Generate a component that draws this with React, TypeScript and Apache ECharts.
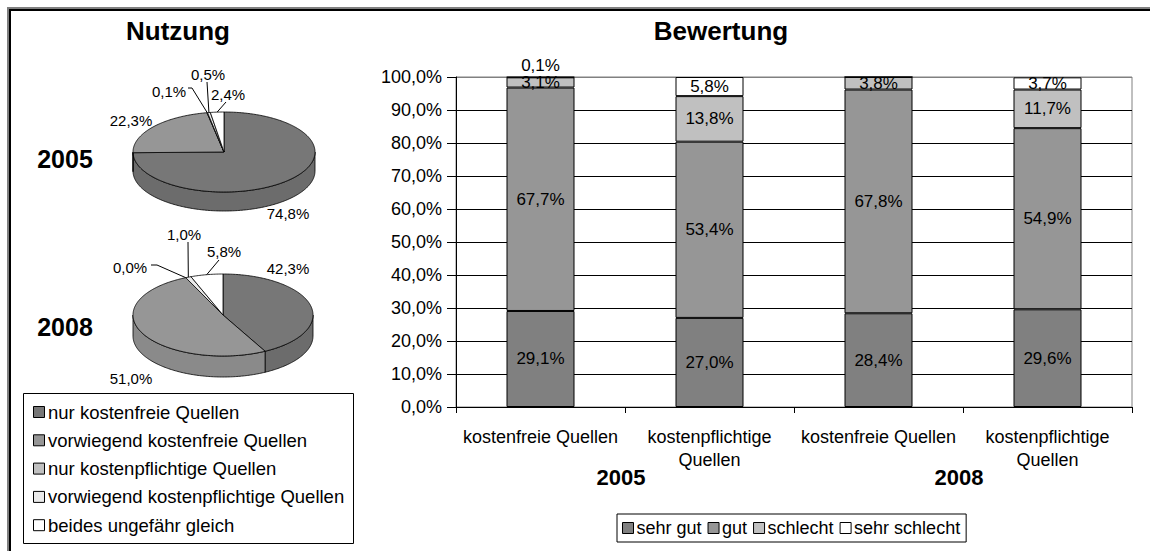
import React, { useEffect, useRef } from 'react';
import * as echarts from 'echarts';

// ---------- DATA ----------
const pieCategories = [
  'nur kostenfreie Quellen',
  'vorwiegend kostenfreie Quellen',
  'nur kostenpflichtige Quellen',
  'vorwiegend kostenpflichtige Quellen',
  'beides ungefähr gleich',
];
const pieYears = ['2005', '2008'];
const pie2005 = [74.8, 22.3, 0.1, 0.5, 2.4];
const pie2008 = [42.3, 51.0, 0.0, 1.0, 5.8];

const barCategories = ['kostenfreie Quellen', 'kostenpflichtige\nQuellen', 'kostenfreie Quellen', 'kostenpflichtige\nQuellen'];
const barGroups = ['2005', '2008'];
const ratingNames = ['sehr gut', 'gut', 'schlecht', 'sehr schlecht'];
const sehrGut = [29.1, 27.0, 28.4, 29.6];
const gut = [67.7, 53.4, 67.8, 54.9];
const schlecht = [3.1, 13.8, 3.8, 11.7];
const sehrSchlecht = [0.1, 5.8, 0, 3.7];

// ---------- STYLE / LAYOUT ----------
const FONT = '"Liberation Sans", Arial, Helvetica, sans-serif';
const pieColors = ['#777777', '#969696', '#c0c0c0', '#eaeaea', '#ffffff'];
const pieSideColors = ['#6c6c6c', '#8a8a8a', '#b0b0b0', '#d8d8d8', '#ececec'];
const ratingColors = ['#808080', '#969696', '#c0c0c0', '#ffffff'];

const pieGeom = [
  { cx: 224, cy: 152, rx: 91, ry: 40, depth: 19 },
  { cx: 223, cy: 315, rx: 90, ry: 41, depth: 21 },
];
// label centre offsets from pie centre, and optional leader start offset from label centre
const pieLabelLayout = [
  [
    { dx: 64, dy: 61 },
    { dx: -93, dy: -32 },
    { dx: -55, dy: -61, lead: [19, -3], elbow: [4, 0] },
    { dx: -16, dy: -78, lead: [-1, 8] },
    { dx: 4, dy: -58, lead: [-2, 8] },
  ],
  [
    { dx: 65, dy: -47 },
    { dx: -92, dy: 63 },
    { dx: -93, dy: -48, lead: [21, -2], elbow: [6, 0] },
    { dx: -39, dy: -81, lead: [4, 8] },
    { dx: 1, dy: -64, lead: [-5, 9] },
  ],
];

const fmt = (v: number) => v.toFixed(1).replace('.', ',') + '%';

function makePieSeries(values: number[], gi: number) {
  const g = pieGeom[gi];
  const total = values.reduce((a, b) => a + b, 0);
  const starts: number[] = [];
  let c = 0;
  values.forEach((v) => {
    starts.push(c);
    c += v;
  });
  const TWO_PI = Math.PI * 2;
  const pt = (t: number, dy = 0) => [g.cx + g.rx * Math.sin(t), g.cy - g.ry * Math.cos(t) + dy];
  const arc = (t0: number, t1: number, dy: number) => {
    const n = Math.max(1, Math.ceil((t1 - t0) / (Math.PI / 180)));
    const pts: number[][] = [];
    for (let k = 0; k <= n; k++) pts.push(pt(t0 + ((t1 - t0) * k) / n, dy));
    return pts;
  };
  return {
    type: 'custom',
    name: 'pie' + pieYears[gi],
    coordinateSystem: 'none',
    silent: true,
    data: values,
    renderItem: (params: any, api: any) => {
      const i = params.dataIndex;
      const v = api.value(0) as number;
      const a0 = (starts[i] / total) * TWO_PI;
      const a1 = ((starts[i] + v) / total) * TWO_PI;
      const children: any[] = [];
      const b0 = Math.max(a0, Math.PI / 2);
      const b1 = Math.min(a1, (Math.PI * 3) / 2);
      if (b1 > b0) {
        const top = arc(b0, b1, 0);
        const bot = arc(b0, b1, g.depth).reverse();
        children.push({
          type: 'polygon',
          shape: { points: top.concat(bot) },
          style: { fill: pieSideColors[i], stroke: '#000', lineWidth: 0.8 },
        });
      }
      if (v > 0) {
        children.push({
          type: 'polygon',
          shape: { points: [[g.cx, g.cy]].concat(arc(a0, a1, 0)) },
          style: { fill: pieColors[i], stroke: '#000', lineWidth: 0.8 },
        });
      }
      const L = pieLabelLayout[gi][i];
      const lx = g.cx + L.dx;
      const ly = g.cy + L.dy;
      if (L.lead) {
        const mid = (a0 + a1) / 2;
        const rim = pt(mid, 0);
        const s = [lx + L.lead[0], ly + L.lead[1]];
        const pts = [s];
        if (L.elbow) pts.push([s[0] + L.elbow[0], s[1] + L.elbow[1]]);
        pts.push(rim);
        children.push({
          type: 'polyline',
          shape: { points: pts },
          style: { stroke: '#000', lineWidth: 1, fill: 'none' },
          z2: 20,
        });
      }
      children.push({
        type: 'text',
        x: lx,
        y: ly,
        z2: 30,
        style: {
          text: fmt(v),
          fill: '#000',
          fontSize: 15,
          fontFamily: FONT,
          align: 'center',
          verticalAlign: 'middle',
        },
      });
      return { type: 'group', children };
    },
  };
}

export default function App() {
  const ref = useRef<HTMLDivElement>(null);
  useEffect(() => {
    document.body.style.margin = '0';
    const chart = echarts.init(ref.current!, null, { renderer: 'svg' });

    const gridLeft = 456;
    const gridRight = 1132;
    const gridTop = 77;
    const gridBottom = 407;
    const plotW = gridRight - gridLeft;

    const ratingSeries = [sehrGut, gut, schlecht, sehrSchlecht].map((arr, si) => ({
      type: 'bar',
      name: ratingNames[si],
      stack: 'total',
      barWidth: 68,
      itemStyle: { color: ratingColors[si], borderColor: '#000', borderWidth: 1 },
      label: {
        show: true,
        position: 'inside',
        color: '#000',
        fontSize: 17,
        fontFamily: FONT,
        formatter: (p: any) => (p.value ? fmt(p.value) : ''),
      },
      data: arr.map((v) =>
        si === 3 && v > 0 && v < 1 ? { value: v, label: { position: 'top', distance: 3 } } : v
      ),
    }));

    // left legend (pie categories)
    const legendItems: any[] = [];
    pieCategories.forEach((name, i) => {
      const y = 412 + i * 28.3;
      legendItems.push({
        type: 'rect',
        shape: { x: 33.5, y: y - 5.5, width: 11, height: 11 },
        style: { fill: pieColors[i], stroke: '#000', lineWidth: 1 },
      });
      legendItems.push({
        type: 'text',
        x: 48,
        y,
        style: { text: name, fill: '#000', fontSize: 18.5, fontFamily: FONT, verticalAlign: 'middle' },
      });
    });

    const option: any = {
      animation: false,
      textStyle: { fontFamily: FONT },
      grid: {
        left: gridLeft,
        right: 1150 - gridRight,
        top: gridTop,
        bottom: 551 - gridBottom,
        show: true,
        borderColor: '#808080',
        borderWidth: 1,
        backgroundColor: 'transparent',
      },
      legend: {
        data: ratingNames,
        left: 617,
        top: 514,
        orient: 'horizontal',
        icon: 'rect',
        itemWidth: 11,
        itemHeight: 11,
        itemGap: 6,
        padding: [5, 6, 5, 5],
        borderColor: '#000',
        borderWidth: 1,
        selectedMode: false,
        itemStyle: { borderColor: '#000', borderWidth: 1 },
        textStyle: { fontSize: 18, color: '#000', fontFamily: FONT, padding: [0, 0, 0, -2] },
      },
      xAxis: {
        type: 'category',
        data: barCategories,
        axisLine: { lineStyle: { color: '#000', width: 1 } },
        axisTick: { show: true, length: 6, lineStyle: { color: '#000' } },
        axisLabel: { color: '#000', fontSize: 18, fontFamily: FONT, margin: 18, lineHeight: 23, interval: 0 },
      },
      yAxis: {
        type: 'value',
        min: 0,
        max: 100,
        interval: 10,
        axisLine: { show: true, lineStyle: { color: '#000', width: 1 } },
        axisTick: { show: true, length: 9, lineStyle: { color: '#000' } },
        axisLabel: {
          color: '#000',
          fontSize: 18,
          fontFamily: FONT,
          margin: 14,
          formatter: (v: number) => fmt(v),
        },
        splitLine: {
          show: true,
          lineStyle: {
            color: ['#000', '#000', '#000', '#000', '#000', '#000', '#000', '#000', '#000', '#000', '#808080'],
            width: 1,
          },
        },
      },
      series: [...ratingSeries, makePieSeries(pie2005, 0), makePieSeries(pie2008, 1)],
      graphic: [
        // outer frame (top & left)
        { type: 'rect', shape: { x: 7, y: 7, width: 1143, height: 2 }, style: { fill: '#808080' } },
        { type: 'rect', shape: { x: 9, y: 9, width: 1141, height: 2 }, style: { fill: '#000' } },
        { type: 'rect', shape: { x: 7, y: 7, width: 2, height: 544 }, style: { fill: '#808080' } },
        { type: 'rect', shape: { x: 9, y: 9, width: 2, height: 542 }, style: { fill: '#000' } },
        // titles
        {
          type: 'text',
          x: 178,
          y: 31,
          style: { text: 'Nutzung', fill: '#000', fontSize: 26, fontWeight: 'bold', fontFamily: FONT, align: 'center', verticalAlign: 'middle' },
        },
        {
          type: 'text',
          x: 721,
          y: 31,
          style: { text: 'Bewertung', fill: '#000', fontSize: 26, fontWeight: 'bold', fontFamily: FONT, align: 'center', verticalAlign: 'middle' },
        },
        // pie year labels
        ...pieYears.map((yr, i) => ({
          type: 'text',
          x: 65,
          y: i === 0 ? 159 : 327,
          style: { text: yr, fill: '#000', fontSize: 25, fontWeight: 'bold', fontFamily: FONT, align: 'center', verticalAlign: 'middle' },
        })),
        // bar group labels
        ...barGroups.map((yr, i) => ({
          type: 'text',
          x: gridLeft + plotW * (0.25 + 0.5 * i) - 4,
          y: 477,
          style: { text: yr, fill: '#000', fontSize: 22, fontWeight: 'bold', fontFamily: FONT, align: 'center', verticalAlign: 'middle' },
        })),
        // left legend box
        {
          type: 'rect',
          shape: { x: 23.5, y: 393.5, width: 330, height: 150 },
          style: { fill: '#fff', stroke: '#000', lineWidth: 1 },
        },
        ...legendItems,
      ],
    };
    chart.setOption(option);
    return () => chart.dispose();
  }, []);
  return <div ref={ref} style={{ width: 1150, height: 551 }} />;
}
